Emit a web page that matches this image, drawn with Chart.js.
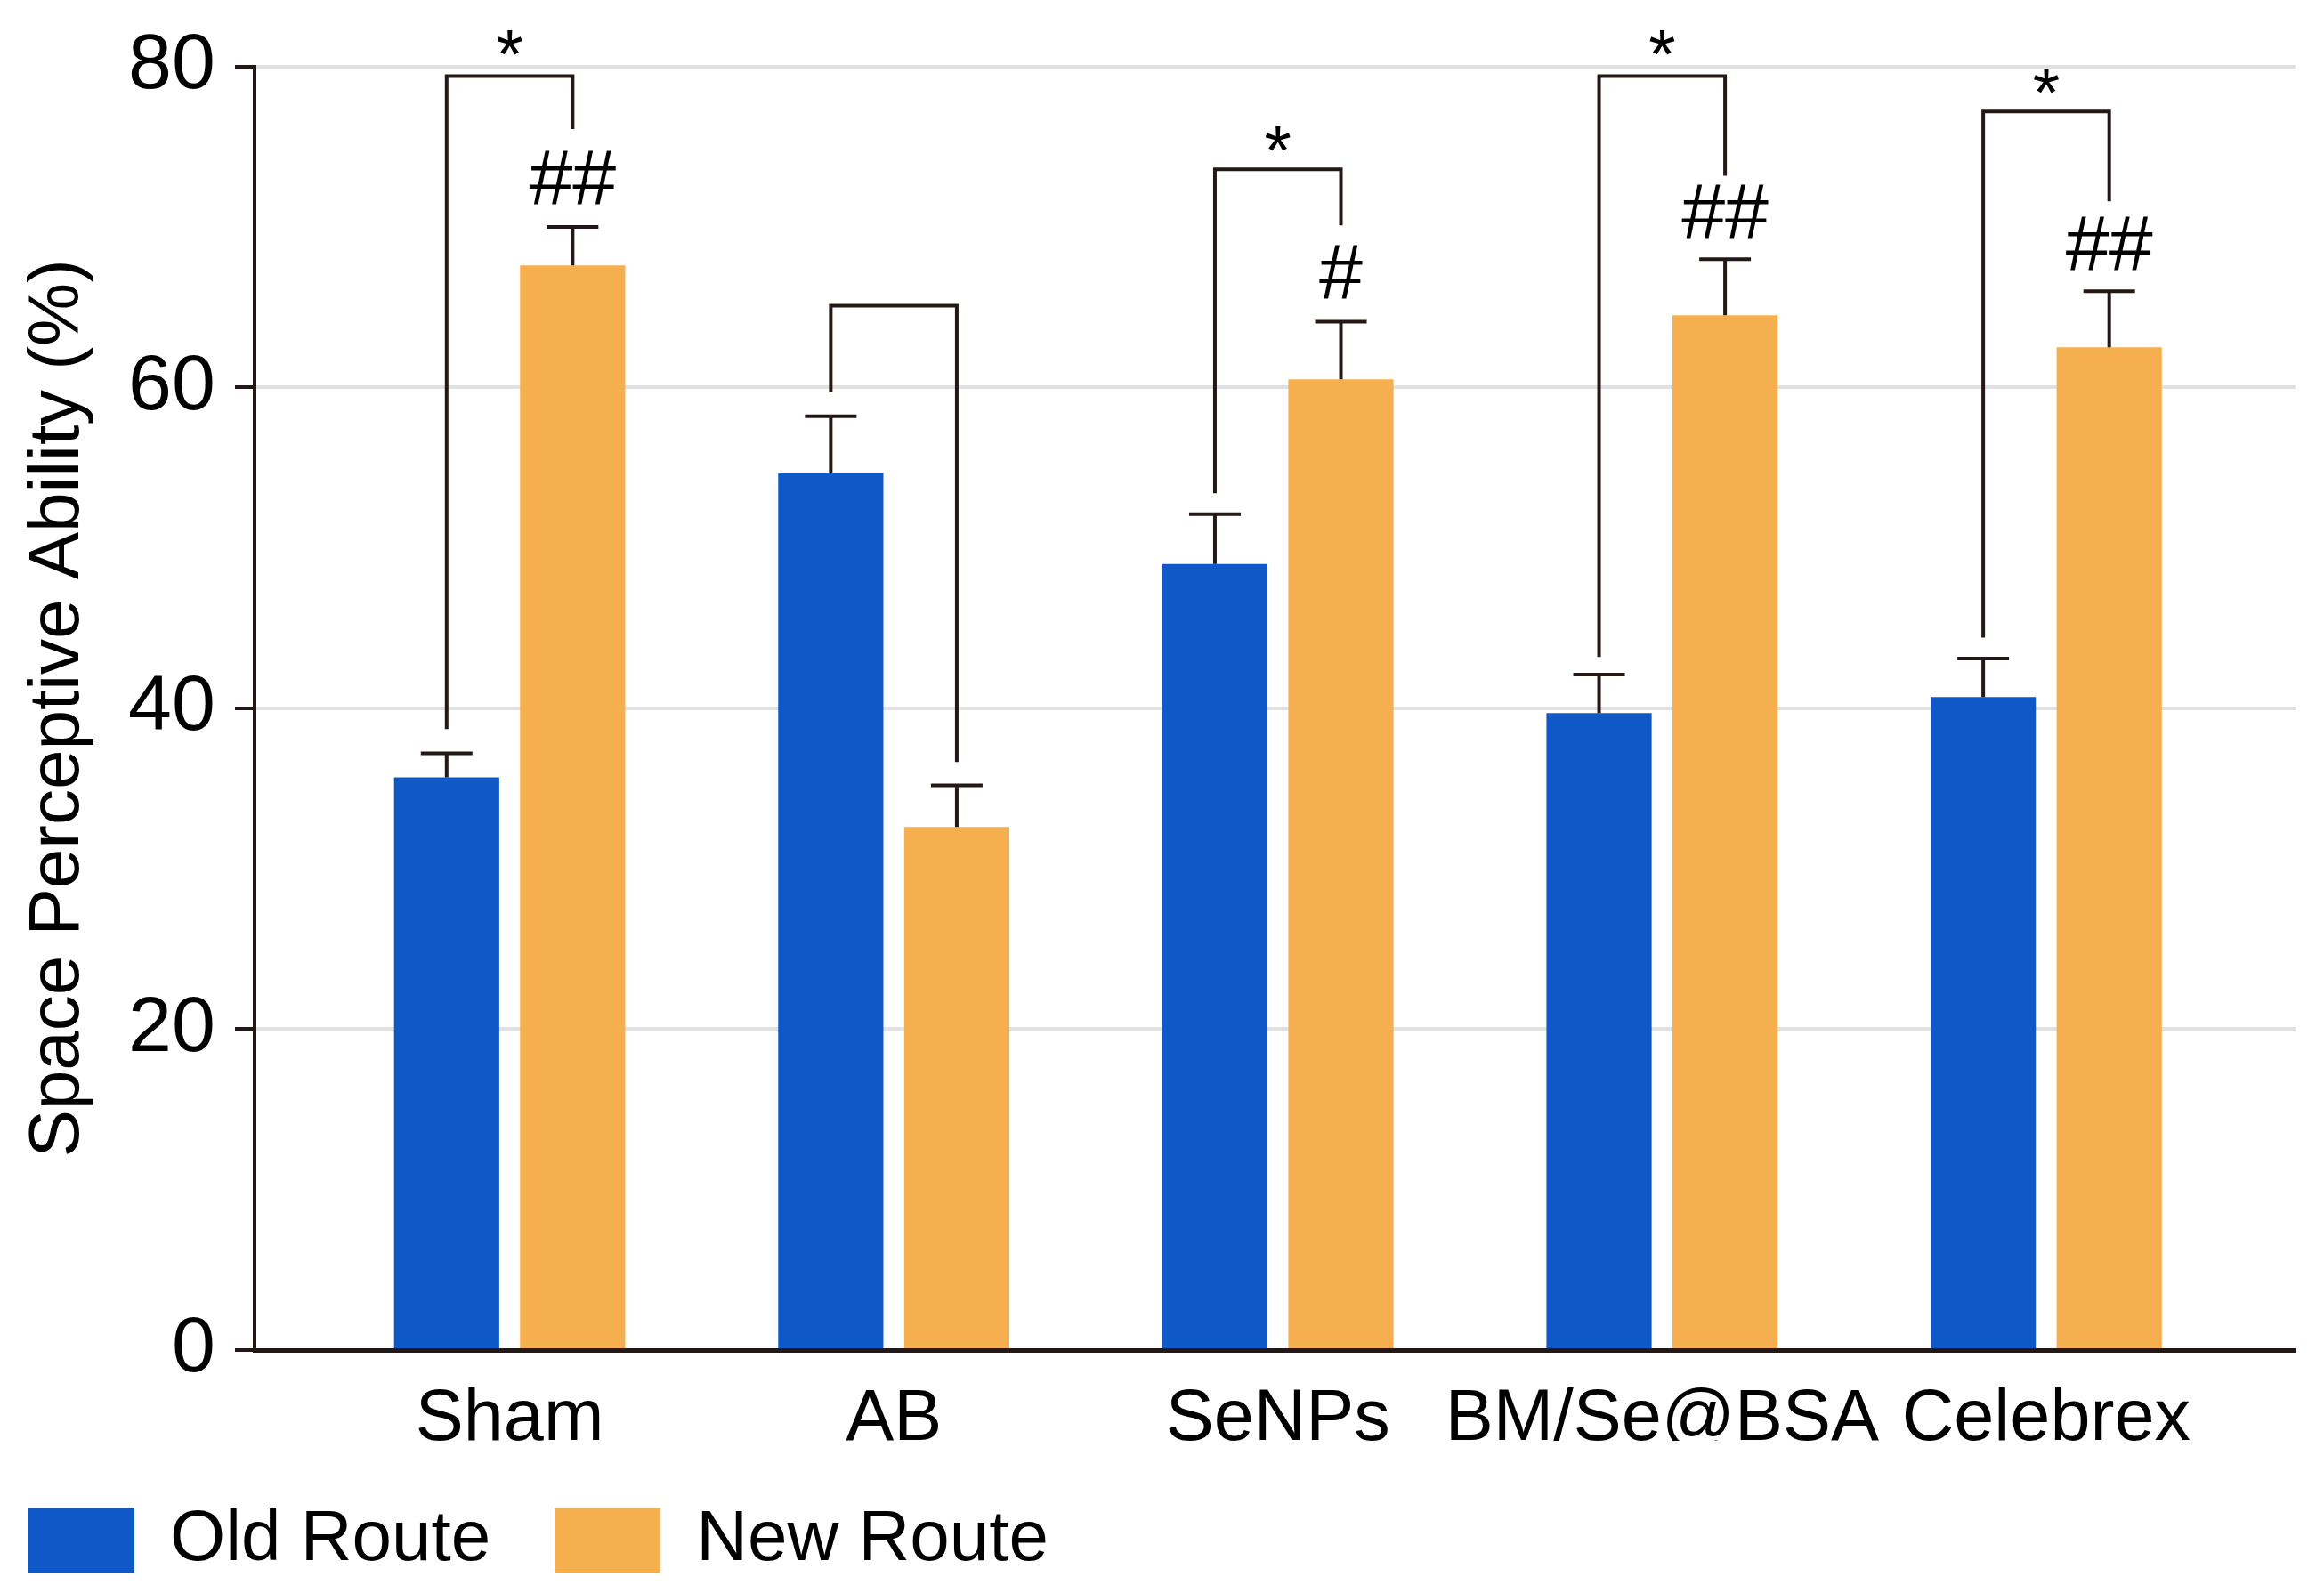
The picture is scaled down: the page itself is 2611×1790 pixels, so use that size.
<!DOCTYPE html>
<html>
<head>
<meta charset="utf-8">
<script src="https://cdn.jsdelivr.net/npm/chart.js@4.4.1/dist/chart.umd.min.js"></script>
<style>
  html, body { margin: 0; padding: 0; background: #fff; overflow: hidden; }
  canvas { display: block; }
</style>
</head>
<body>
<canvas id="grafico" width="2611" height="1790"></canvas>
<script>
// values
const categorias = ['Sham', 'AB', 'SeNPs', 'BM/Se@BSA', 'Celebrex']
const rotaAntiga = [35.7, 54.7, 49.0, 39.7, 40.7]
const rotaNova = [67.6, 32.6, 60.5, 64.5, 62.5]
const erroAntiga = [1.5, 3.5, 3.1, 2.4, 2.4]
const erroNova = [2.4, 2.6, 3.6, 3.5, 3.5]
const yTicks = [0, 20, 40, 60, 80]

// significance brackets (y in data units)
const colcheteTopo = [79.4, 65.1, 73.6, 79.4, 77.2]
const colcheteFimAntiga = [38.7, 59.7, 53.4, 43.2, 44.4]
const colcheteFimNova = [76.1, 36.65, 70.1, 73.2, 71.6]
const estrelas = ['*', '', '*', '*', '*']
const estrelaY = [81.5, null, 75.5, 81.5, 79.1]
const hashes = ['##', '', '#', '##', '##']
const hashY = [73.1, null, 67.2, 71.0, 69.0]

const AZUL = '#0E58C7'
const LARANJA = '#F6AF4F'
const TINTA = '#231815'
const FONTE = "'Liberation Sans', Arial, sans-serif"

const pontos = arr => arr.map((v, i) => ({ x: i, y: v }))

const textoCentrado = (ctx, txt, x, y) => {
  const m = ctx.measureText(txt)
  const asc = m.actualBoundingBoxAscent
  const desc = m.actualBoundingBoxDescent
  ctx.fillText(txt, x, y + (asc - desc) / 2)
}

const anotacoes = {
  id: 'anotacoes',
  afterDatasetsDraw(chart) {
    const ctx = chart.ctx
    const yS = chart.scales.y
    const metaA = chart.getDatasetMeta(0)
    const metaN = chart.getDatasetMeta(1)
    ctx.save()
    ctx.strokeStyle = TINTA
    ctx.lineWidth = 4
    ctx.lineCap = 'butt'
    const cap = 29
    // error bars (upper only)
    const erroBar = (meta, vals, errs) => {
      meta.data.forEach((bar, i) => {
        const yTop = yS.getPixelForValue(vals[i] + errs[i])
        const yBase = yS.getPixelForValue(vals[i])
        ctx.beginPath()
        ctx.moveTo(bar.x, yBase)
        ctx.lineTo(bar.x, yTop)
        ctx.moveTo(bar.x - cap, yTop)
        ctx.lineTo(bar.x + cap, yTop)
        ctx.stroke()
      })
    }
    erroBar(metaA, rotaAntiga, erroAntiga)
    erroBar(metaN, rotaNova, erroNova)

    // brackets
    categorias.forEach((c, i) => {
      const xa = metaA.data[i].x
      const xn = metaN.data[i].x
      const yt = yS.getPixelForValue(colcheteTopo[i])
      ctx.beginPath()
      ctx.moveTo(xa, yS.getPixelForValue(colcheteFimAntiga[i]))
      ctx.lineTo(xa, yt)
      ctx.lineTo(xn, yt)
      ctx.lineTo(xn, yS.getPixelForValue(colcheteFimNova[i]))
      ctx.stroke()
    })

    ctx.fillStyle = '#000'
    ctx.textAlign = 'center'
    ctx.textBaseline = 'alphabetic'
    categorias.forEach((c, i) => {
      const xa = metaA.data[i].x
      const xn = metaN.data[i].x
      if (estrelas[i]) {
        ctx.font = `78px ${FONTE}`
        textoCentrado(ctx, estrelas[i], (xa + xn) / 2, yS.getPixelForValue(estrelaY[i]))
      }
      if (hashes[i]) {
        ctx.font = `88px ${FONTE}`
        textoCentrado(ctx, hashes[i], xn, yS.getPixelForValue(hashY[i]))
      }
    })
    ctx.restore()
  }
}

const criarGrafico = () => {
  const $ctx = document.getElementById('grafico')

  new Chart($ctx, {
    type: 'bar',
    data: {
      datasets: [{
        label: 'Old Route',
        data: pontos(rotaAntiga),
        backgroundColor: AZUL,
        borderWidth: 0
      }, {
        label: 'New Route',
        data: pontos(rotaNova),
        backgroundColor: LARANJA,
        borderWidth: 0
      }]
    },
    options: {
      responsive: false,
      devicePixelRatio: 1,
      animation: false,
      categoryPercentage: 0.656,
      barPercentage: 0.835,
      layout: {
        padding: { top: 73.5, right: 32, bottom: 9, left: -40 }
      },
      scales: {
        x: {
          type: 'linear',
          offset: false,
          min: -0.664,
          max: 4.649,
          afterBuildTicks: s => { s.ticks = categorias.map((_, i) => ({ value: i })) },
          afterFit: s => { s.height = 102 },
          ticks: {
            callback: v => categorias[v],
            autoSkip: false,
            maxRotation: 0,
            minRotation: 0,
            padding: 30,
            color: '#000',
            font: { family: FONTE, size: 81 }
          },
          grid: { display: false, drawTicks: false },
          border: { display: true, color: TINTA, width: 5 }
        },
        y: {
          min: 0,
          max: 80,
          afterBuildTicks: s => { s.ticks = yTicks.map(v => ({ value: v })) },
          afterFit: s => { s.width = 326 },
          ticks: {
            padding: 22,
            color: '#000',
            font: { family: FONTE, size: 88 }
          },
          grid: {
            color: '#e1e1e1',
            lineWidth: 4,
            tickColor: TINTA,
            tickLength: 22,
            tickWidth: 4
          },
          border: { display: true, color: TINTA, width: 4 },
          title: {
            display: true,
            text: 'Space Perceptive Ability (%)',
            color: '#000',
            font: { family: FONTE, size: 80 },
            padding: { top: 58, bottom: 0 }
          }
        }
      },
      plugins: {
        legend: {
          position: 'bottom',
          align: 'start',
          labels: {
            boxWidth: 119,
            boxHeight: 73,
            padding: 72,
            color: '#000',
            font: { family: FONTE, size: 80 }
          }
        },
        tooltip: { enabled: false }
      }
    },
    plugins: [anotacoes]
  })
}

criarGrafico()
</script>
</body>
</html>
